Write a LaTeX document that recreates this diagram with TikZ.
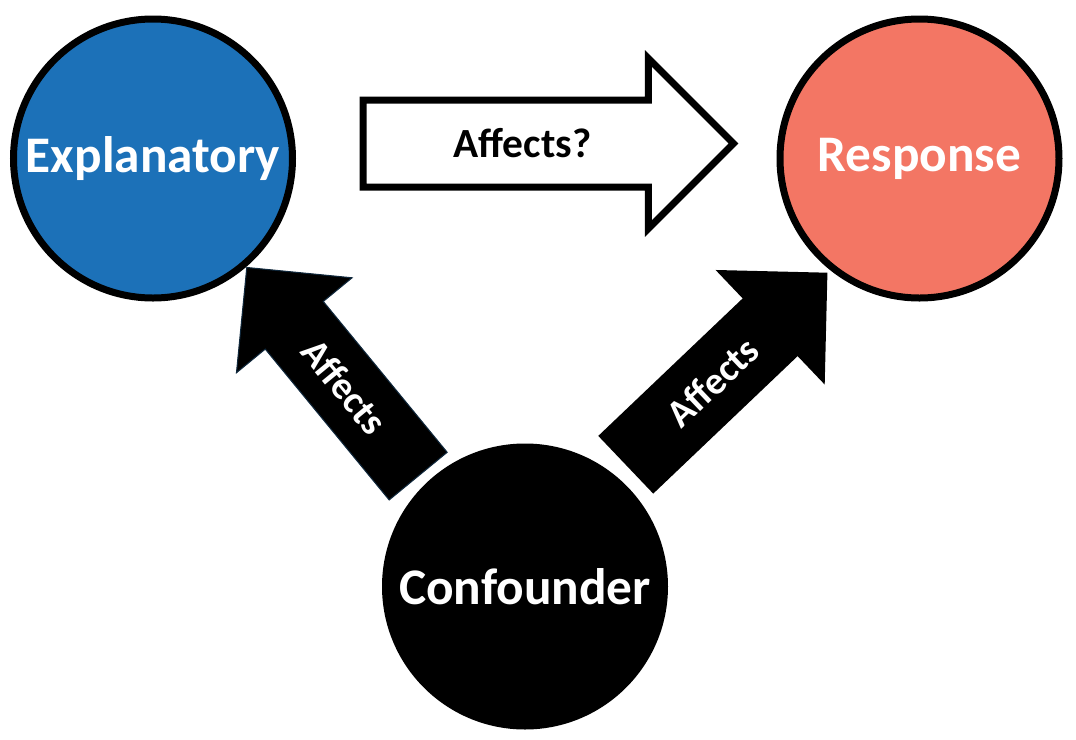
\documentclass[tikz,border=0pt]{standalone}
\usepackage{fontspec}
\setmainfont{Carlito}
\usetikzlibrary{shapes.arrows, calc}

\definecolor{explblue}{RGB}{28,113,184}
\definecolor{respred}{RGB}{243,118,100}
\definecolor{edgenavy}{RGB}{16,40,60}

\begin{document}
\begin{tikzpicture}
	% Stili comuni per variabili, frecce ed etichette
	\tikzset{
		var/.style={
			circle,
			draw=black,
			line width=0.14cm,
			minimum size=5.58cm,
			inner sep=0pt,
			text=white,
			font=\fontsize{29.2}{35}\selectfont\bfseries
		},
		fatarrow/.style={
			single arrow,
			single arrow tip angle=90,
			inner xsep=0pt,
			anchor=tail
		},
		arrowlabel/.style={
			inner sep=0pt,
			font=\fontsize{22}{26}\selectfont\bfseries
		}
	}
	\useasboundingbox (0,0) rectangle (21.52,-14.8);
	
	% Variabili
	\node[var, fill=explblue] (expl) at (3.06, -3.17) {Explanatory};
	\node[var, fill=respred] (resp) at (18.39, -3.17) {Response};
	\node[var, fill=black] (conf) at (10.5, -11.73) {Confounder};
	
	% Freccia vuota tra le due variabili
	\node[fatarrow, draw=black, fill=white, line width=0.14cm, inner ysep=0.8cm,
		single arrow head extend=0.83cm, minimum height=7.41cm]
		(ask) at ([xshift=1.27cm, yshift=0.3cm]expl.east) {};
	\node[arrowlabel, font=\fontsize{23.6}{28}\selectfont\bfseries]
		(asklabel) at ($(ask.tail)!0.43!(ask.tip)$) {Affects?};
	
	% Frecce piene dal confondente
	\node[fatarrow, draw=edgenavy, fill=black, line width=0.6pt, inner ysep=0.74cm,
		single arrow head extend=0.745cm, minimum height=5.4cm, rotate=129.4]
		(toexpl) at ([xshift=-2.13cm, yshift=2.2cm]conf.center) {};
	\node[arrowlabel, text=white, rotate=-50.6]
		(toexpllabel) at ($(toexpl.tail)!0.43!(toexpl.tip)$) {Affects};
	
	\node[fatarrow, fill=black, inner ysep=0.79cm,
		single arrow head extend=0.785cm, minimum height=5.57cm, rotate=43.6]
		(toresp) at ([xshift=2.01cm, yshift=2.43cm]conf.center) {};
	\node[arrowlabel, text=white, rotate=43.6]
		(toresplabel) at ($(toresp.tail)!0.43!(toresp.tip)$) {Affects};
\end{tikzpicture}
\end{document}
